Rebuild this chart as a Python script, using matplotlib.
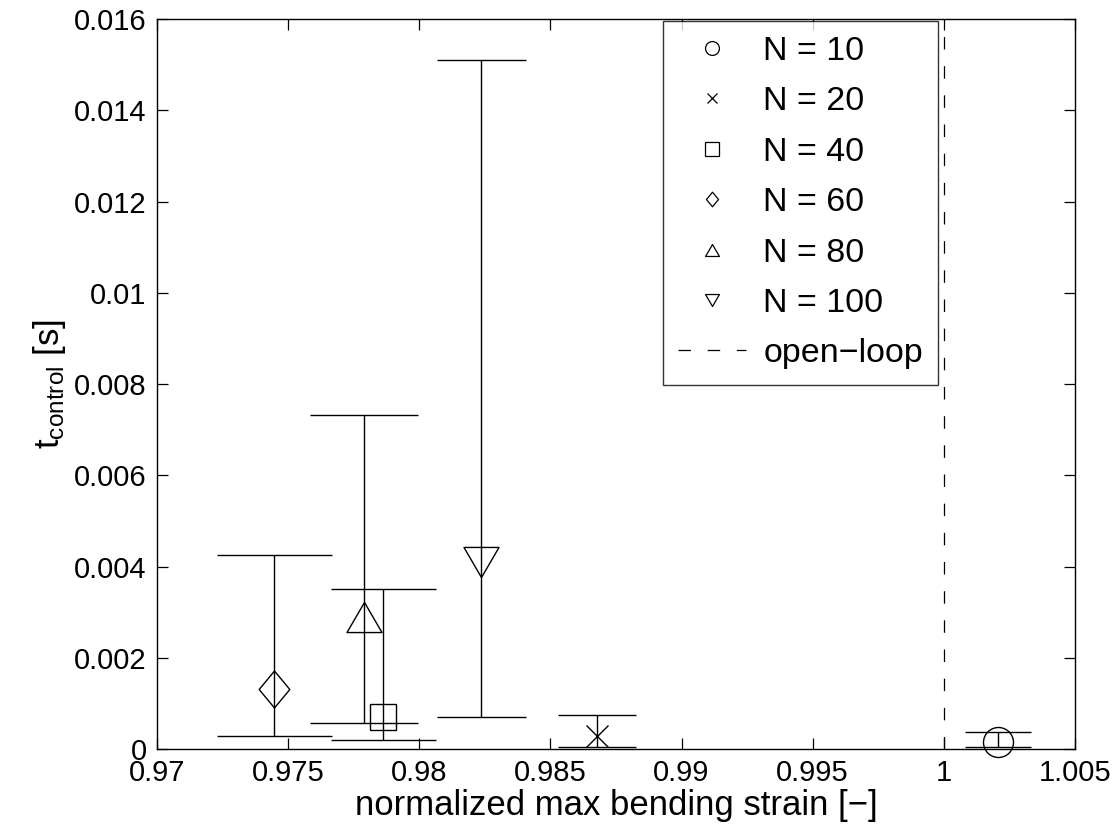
import matplotlib
matplotlib.use('Agg')
import matplotlib.pyplot as plt
from matplotlib.path import Path
from matplotlib.lines import Line2D
from matplotlib.ticker import FuncFormatter

plt.rcParams['font.family'] = ['Liberation Sans', 'DejaVu Sans']
plt.rcParams['mathtext.fontset'] = 'custom'
plt.rcParams['mathtext.rm'] = 'Liberation Sans'
plt.rcParams['mathtext.default'] = 'regular'
plt.rcParams['lines.scale_dashes'] = False

# data
labels = ['N = 10', 'N = 20', 'N = 40', 'N = 60', 'N = 80', 'N = 100']
strain = [1.00207, 0.98679, 0.97862, 0.97447, 0.97789, 0.98237]
t_mean = [0.000147, 0.00028, 0.00071, 0.00132, 0.0029, 0.0041]
t_low = [0.00005, 0.00005, 0.00019, 0.000285, 0.00057, 0.00071]
t_high = [0.000373, 0.00075, 0.00351, 0.00426, 0.00731, 0.0151]
cap_half = [0.00127, 0.00149, 0.0020, 0.0022, 0.00207, 0.00171]
open_loop = 1.0

xticks = [0.97, 0.975, 0.98, 0.985, 0.99, 0.995, 1.0, 1.005]
yticks = [0, 0.002, 0.004, 0.006, 0.008, 0.01, 0.012, 0.014, 0.016]

# matlab-like marker shapes
tri_up = Path([(-1, -0.86), (1, -0.86), (0, 0.86), (-1, -0.86)], closed=True)
tri_dn = Path([(-1, 0.86), (1, 0.86), (0, -0.86), (-1, 0.86)], closed=True)
diam = Path([(0, 1), (0.83, 0), (0, -1), (-0.83, 0), (0, 1)], closed=True)
markers = ['o', 'x', 's', diam, tri_up, tri_dn]
sizes = [21.6, 16, 19.2, 26.6, 25.2, 25.2]
leg_sizes = [10, 6.5, 9.4, 10.5, 10, 10]

fig, ax = plt.subplots(figsize=(11.18, 8.34), dpi=100)
fig.subplots_adjust(left=0.1404, right=0.9615, bottom=0.1019, top=0.9772)

handles = []
for i in range(len(strain)):
    ax.vlines(strain[i], t_low[i], t_high[i], color='k', lw=1)
    ax.hlines([t_low[i], t_high[i]], strain[i] - cap_half[i], strain[i] + cap_half[i],
              color='k', lw=1)
    ax.plot(strain[i], t_mean[i], ls='none', marker=markers[i], ms=sizes[i],
            mfc='none', mec='k', mew=1, clip_on=False, zorder=3)
    handles.append(Line2D([], [], ls='none', marker=markers[i], ms=leg_sizes[i],
                          mfc='none', mec='k', mew=0.9, label=labels[i]))

ax.axvline(open_loop, color='k', lw=0.9, ls=(0, (9, 12)))
handles.append(Line2D([], [], color='k', lw=0.9, ls=(0, (9, 12)), label='open\u2212loop'))

ax.set_xlim(0.97, 1.005)
ax.set_ylim(0, 0.016)
ax.set_xticks(xticks)
ax.set_yticks(yticks)
fmt = FuncFormatter(lambda v, p: '%g' % round(v, 6))
ax.xaxis.set_major_formatter(fmt)
ax.yaxis.set_major_formatter(fmt)
ax.tick_params(direction='in', top=True, right=True, length=7.7, width=0.9,
               labelsize=21, pad=7.5)
for s in ax.spines.values():
    s.set_linewidth(1.0)

ax.set_xlabel('normalized max bending strain [\u2212]', fontsize=25, labelpad=1)
ax.set_ylabel(r'$t_{control}$ [s]', fontsize=25, labelpad=4)

leg = ax.legend(handles=handles, loc='upper left', bbox_to_anchor=(0.5512, 0.9977),
                fontsize=24.5, frameon=True, fancybox=False, edgecolor='k',
                handlelength=2.0, handletextpad=0.5, labelspacing=0.57,
                borderpad=0.45, borderaxespad=0)
leg.get_frame().set_linewidth(1.0)

fig.savefig('out.png', dpi=100)
